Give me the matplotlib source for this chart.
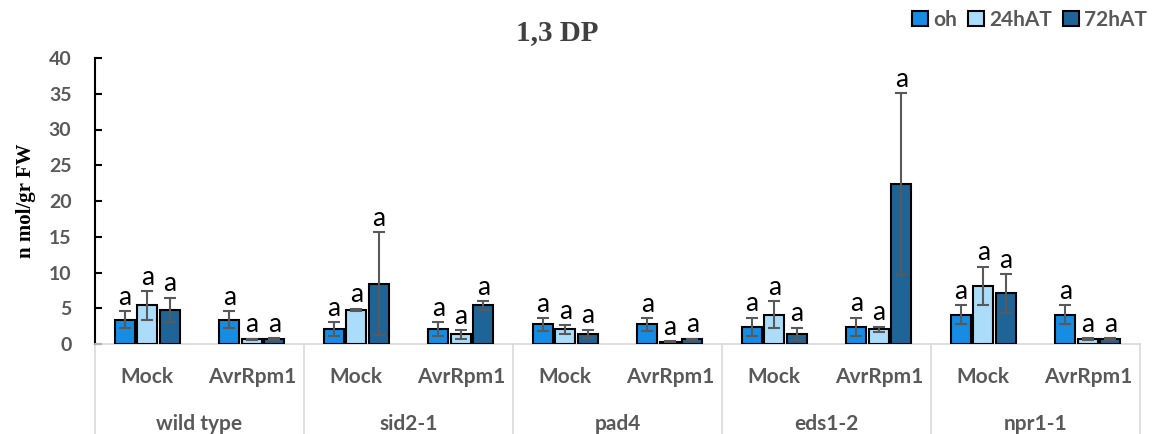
import numpy as np
import matplotlib.pyplot as plt
from matplotlib.patches import Patch

# Datos
genotipos = ['wild type', 'sid2-1', 'pad4', 'eds1-2', 'npr1-1']
tratamientos = ['Mock', 'AvrRpm1']
series = ['oh', '24hAT', '72hAT']

oh = [3.4, 3.4, 2.05, 2.05, 2.75, 2.75, 2.4, 2.4, 4.1, 4.1]
oh_err = [1.2, 1.2, 1.0, 1.0, 0.9, 0.9, 1.3, 1.3, 1.3, 1.3]
h24 = [5.4, 0.65, 4.75, 1.35, 2.05, 0.3, 4.1, 2.05, 8.15, 0.7]
h24_err = [2.0, 0.1, 0.2, 0.6, 0.6, 0.05, 1.9, 0.35, 2.65, 0.1]
h72 = [4.75, 0.7, 8.4, 5.4, 1.4, 0.65, 1.4, 22.4, 7.1, 0.7]
h72_err = [1.7, 0.1, 7.2, 0.6, 0.6, 0.1, 0.9, 12.7, 2.7, 0.1]
letras = ['a'] * 10

colores = ['#168CE3', '#ABDCFA', '#1F6496']
gris = '#595959'

plt.rcParams['font.family'] = ['Lato', 'DejaVu Sans']

fig = plt.figure(figsize=(11.52, 4.34), dpi=100)
ax = fig.add_axes([95/1152, 1 - 344/434, (1140 - 95)/1152, (344 - 58)/434])

x = np.arange(len(genotipos) * len(tratamientos))
paso = 0.215
ancho = 0.19
medias = [oh, h24, h72]
errores = [oh_err, h24_err, h72_err]

for k in range(3):
    pos = x + (k - 1) * paso
    ax.bar(pos, medias[k], ancho, color=colores[k], edgecolor='black', linewidth=1.5,
           yerr=errores[k], error_kw=dict(ecolor=gris, elinewidth=1.5, capsize=4, capthick=1.5),
           zorder=3)
    for p, m, e, l in zip(pos, medias[k], errores[k], letras):
        ax.annotate(l, (p, m + e), xytext=(0, 1), textcoords='offset points',
                    ha='center', va='bottom', fontsize=19, color='black')

ax.set_xlim(-0.5, len(x) - 0.5)
ax.set_ylim(0, 40)
ax.set_yticks(np.arange(0, 41, 5))
ax.tick_params(axis='y', direction='in', length=5, width=1.5, labelsize=14,
               labelcolor=gris, pad=17)
for t in ax.get_yticklabels():
    t.set_fontweight('bold')
ax.set_xticks([])
for s in ['top', 'right']:
    ax.spines[s].set_visible(False)
ax.spines['left'].set_linewidth(1.5)
ax.spines['bottom'].set_color('#D9D9D9')
ax.spines['bottom'].set_linewidth(1.2)

ax.set_ylabel('n mol/gr FW', family='Liberation Serif', fontweight='bold', fontsize=15,
              labelpad=9)

# Etiquetas de categorías
trans = ax.get_xaxis_transform()
for i in x:
    ax.text(i, -0.115, tratamientos[i % 2], transform=trans, ha='center', va='center',
            fontsize=15, fontweight='bold', color=gris)
for g, nombre in enumerate(genotipos):
    ax.text(2 * g + 0.5, -0.28, nombre, transform=trans, ha='center', va='center',
            fontsize=15, fontweight='bold', color=gris)
for b in np.arange(-0.5, len(x), 2):
    ax.plot([b, b], [0, -0.33], transform=trans, color='#D9D9D9', lw=1.2, clip_on=False)

fig.text(557/1152, 1 - 33/434, '1,3 DP', family='Liberation Serif', fontweight='bold',
         fontsize=21, color='#404040', ha='center', va='center')

handles = [Patch(facecolor=c, edgecolor='black', linewidth=1.5) for c in colores]
fig.legend(handles, series, loc='upper right', bbox_to_anchor=(1.012, 1.02), ncol=3,
           frameon=False, handlelength=0.75, handleheight=0.75, handletextpad=0.25,
           columnspacing=0.55, prop=dict(family='Lato', weight='bold', size=15))
for t in fig.legends[0].get_texts():
    t.set_color(gris)

fig.savefig('out.png', dpi=100)
